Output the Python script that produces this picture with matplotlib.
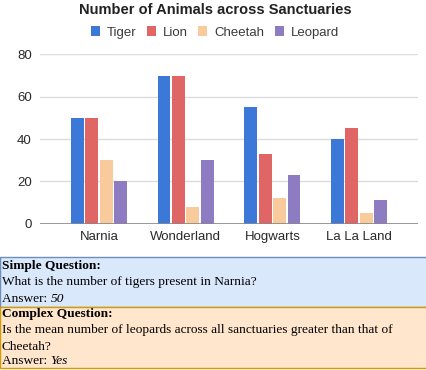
import numpy as np
import matplotlib.pyplot as plt
from matplotlib.patches import Rectangle

# Data
sanctuaries = ['Narnia', 'Wonderland', 'Hogwarts', 'La La Land']
animals = ['Tiger', 'Lion', 'Cheetah', 'Leopard']
tiger = [50, 70, 55, 40]
lion = [50, 70, 33, 45]
cheetah = [30, 8, 12, 5]
leopard = [20, 30, 23, 11]
colors = ['#3c78d8', '#e06666', '#f9cb9c', '#8e7cc3']

title = 'Number of Animals across Sanctuaries'
simple_q = 'What is the number of tigers present in Narnia?'
simple_a = '50'
complex_q = ['Is the mean number of leopards across all sanctuaries greater than that of',
             'Cheetah?']
complex_a = 'Yes'

W, H = 427, 370
fig = plt.figure(figsize=(W / 100, H / 100), dpi=100)
plt.rcParams['font.family'] = ['Liberation Sans', 'DejaVu Sans']

ax = fig.add_axes([40 / W, (H - 223.7) / H, 378 / W, 169.3 / H])
x = np.arange(len(sanctuaries))
step = 0.166
series = [tiger, lion, cheetah, leopard]
for i, (vals, name) in enumerate(zip(series, animals)):
    ax.bar(x + (i - 1.5) * step, vals, width=0.148, color=colors[i], label=name, zorder=3)

ax.set_xlim(-0.68, 3.68)
ax.set_ylim(0, 80)
ax.set_yticks([0, 20, 40, 60, 80])
ax.set_xticks(x)
ax.set_xticklabels(sanctuaries)
ax.grid(axis='y', color='#dcdcdc', linewidth=1, zorder=0)
for s in ['top', 'right', 'left', 'bottom']:
    ax.spines[s].set_visible(False)
ax.axhline(0, color='#888888', linewidth=1.2, zorder=4)
ax.tick_params(axis='both', length=0, labelsize=9.5, labelcolor='#2a2a2a')
ax.tick_params(axis='y', pad=6)
ax.tick_params(axis='x', pad=5)

fig.text(215 / W, 1 - 10.5 / H, title, ha='center', va='center', fontsize=10.5, fontweight='bold', color='#222222')
fig.legend(loc='center', bbox_to_anchor=(215 / W, 1 - 32.5 / H), ncol=4, frameon=False,
           fontsize=9.5, handlelength=0.7, handleheight=0.7, handletextpad=0.55,
           columnspacing=0.75, labelcolor='#3a3a3a')

# Question boxes below the chart
fig.patches.append(Rectangle((0, (H - 307.3) / H), 1, 50 / H, transform=fig.transFigure,
                             facecolor='#dae8fc', edgecolor='#6c8ebf', linewidth=1))
fig.patches.append(Rectangle((0, (H - 367.5) / H), 1, 60.2 / H, transform=fig.transFigure,
                             facecolor='#ffe6cc', edgecolor='#d79b00', linewidth=1))

serif = ['Liberation Serif', 'DejaVu Serif']
fs = 9.6
x0 = 2 / W


def line(y, s, **kw):
    return fig.text(x0, 1 - y / H, s, ha='left', va='center', fontsize=fs, family=serif, color='black', **kw)


def answer(y, val):
    t = line(y, 'Answer: ')
    fig.canvas.draw()
    bb = t.get_window_extent(fig.canvas.get_renderer())
    fig.text(bb.x1 / W, 1 - y / H, val, ha='left', va='center', fontsize=fs, family=serif, style='italic')


line(266, 'Simple Question:', fontweight='bold')
line(282, simple_q)
answer(299, simple_a)
line(313.5, 'Complex Question:', fontweight='bold')
line(330, complex_q[0])
line(346.5, complex_q[1])
answer(361.5, complex_a)

fig.savefig('out.png', dpi=100)
